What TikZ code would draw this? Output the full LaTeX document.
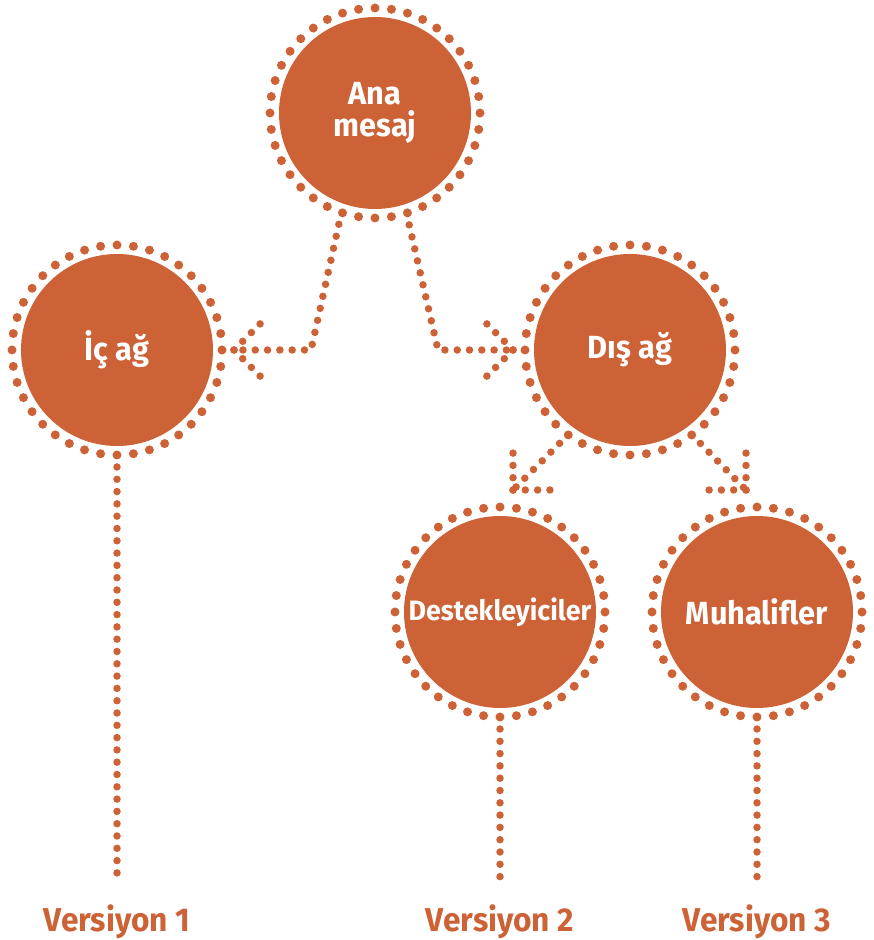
\documentclass[tikz,border=0pt]{standalone}
\usepackage{fontspec}
\setmainfont{Fira Sans}[FakeStretch=0.96]
\usetikzlibrary{calc, positioning}
\definecolor{mesajorange}{RGB}{204, 98, 54}

\tikzset{
  bubble/.style={circle, fill=mesajorange, minimum size=192pt, inner sep=0pt, outer sep=21pt,
    text=white, align=center, font=\bfseries\fontsize{32}{32}\selectfont},
  ring/.style={draw=mesajorange, line width=9pt, line cap=round, dash pattern=on 0pt off 16.493pt},
  link/.style={draw=mesajorange, line width=7.5pt, line cap=round, dash pattern=on 0pt off 12.3pt},
  version/.style={text=mesajorange, font=\bfseries\fontsize{33}{33}\selectfont},
  chev/.pic={
    \draw[link] (0,0) -- (135:37);
    \draw[link] (0,0) -- (-135:37);
  }
}

\begin{document}
\begin{tikzpicture}[x=1pt, y=1pt]
  \useasboundingbox (0,0) rectangle (874,940);

  % circles
  \node[bubble] (ana) at (375,827) {Ana\\mesaj};
  \node[bubble] (ic) at (117,590) {İç ağ};
  \node[bubble] (dis) at (630,590) {Dış ağ};
  \node[bubble, font=\bfseries\fontsize{28}{28}\selectfont] (destek) at (500,328) {Destekleyiciler};
  \node[bubble] (muhal) at (757,328) {Muhalifler};

  \foreach \n in {ana, ic, dis, destek, muhal}
    \draw[ring] (\n.center) circle[radius=105];

  % arrow tips and bends
  \coordinate (lbend) at (311,590);
  \coordinate (rbend) at (438,590);
  \coordinate (ltip) at (234,590);
  \coordinate (rtip) at (513,590);
  \coordinate (dtip) at (513,450);
  \coordinate (mtip) at (746,450);

  \draw[link] (ana.252) -- (lbend) -- (ltip);
  \pic[rotate=180] at (ltip) {chev};
  \draw[link] (ana.287) -- (rbend) -- (rtip);
  \pic at (rtip) {chev};

  \draw[link] (dis.233) -- (dtip);
  \pic[rotate=225] at (dtip) {chev};
  \draw[link] (dis.307) -- (mtip);
  \pic[rotate=-45] at (mtip) {chev};

  % versions
  \coordinate (v1) at (117,62);
  \coordinate (v2) at (500,62);
  \coordinate (v3) at (757,62);
  \draw[link] (ic.south) -- (v1);
  \draw[link] (destek.south) -- (v2);
  \draw[link] (muhal.south) -- (v3);

  \node[version, anchor=base] (ver1) at (117,9) {Versiyon 1};
  \node[version, anchor=base] (ver2) at (500,9) {Versiyon 2};
  \node[version, anchor=base] (ver3) at (757,9) {Versiyon 3};
\end{tikzpicture}
\end{document}
